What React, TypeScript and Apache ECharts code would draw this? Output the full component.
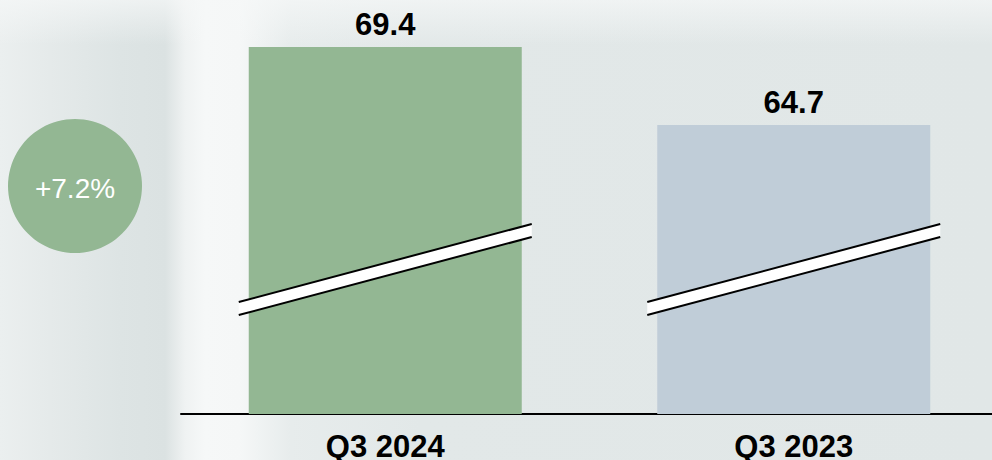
import React, { useEffect, useRef } from "react";
import * as echarts from "echarts";

const categories = ["Q3 2024", "Q3 2023"];
const values = [69.4, 64.7];
const barColors = ["#93b793", "#c0cdd8"];
const breakValue = 56.0;
const axisMin = 47.3;
const axisMax = 69.4;
const changeLabel = "+7.2%";

export default function App() {
  const ref = useRef<HTMLDivElement>(null);

  useEffect(() => {
    if (!ref.current) return;
    const chart = echarts.init(ref.current, null, { renderer: "svg" });
    const font = "Arial, 'Liberation Sans', sans-serif";
    chart.setOption({
      animation: false,
      backgroundColor: "transparent",
      grid: {
        left: 181,
        width: 817,
        top: 47,
        bottom: 46,
        containLabel: false,
        outerBoundsMode: "none",
      },
      xAxis: {
        type: "category",
        data: categories,
        axisLine: { show: true, lineStyle: { color: "#000", width: 2 } },
        axisTick: { show: false },
        axisLabel: {
          color: "#000",
          fontFamily: font,
          fontWeight: "bold",
          fontSize: 31,
          lineHeight: 24,
          margin: 20,
        },
      },
      yAxis: {
        type: "value",
        min: axisMin,
        max: axisMax,
        show: false,
        splitLine: { show: false },
      },
      series: [
        {
          type: "bar",
          barWidth: 273,
          data: values.map((v, i) => ({ value: v, itemStyle: { color: barColors[i] } })),
          label: {
            show: true,
            position: "top",
            distance: 7,
            color: "#000",
            fontFamily: font,
            fontWeight: "bold",
            fontSize: 31,
            formatter: (p: any) => p.value.toFixed(1),
          },
        },
        {
          type: "custom",
          data: categories.map((_, i) => [i, breakValue]),
          z: 10,
          renderItem: (params: any, api: any) => {
            const c = api.coord([api.value(0), api.value(1)]);
            const hx = 146.5;
            const hy = 39;
            const t = 6.5;
            const x0 = c[0] - hx;
            const x1 = c[0] + hx;
            return {
              type: "group",
              children: [
                {
                  type: "polygon",
                  shape: {
                    points: [
                      [x0, c[1] + hy - t],
                      [x1, c[1] - hy - t],
                      [x1, c[1] - hy + t],
                      [x0, c[1] + hy + t],
                    ],
                  },
                  style: { fill: "#ffffff" },
                },
                {
                  type: "line",
                  shape: { x1: x0, y1: c[1] + hy - t, x2: x1, y2: c[1] - hy - t },
                  style: { stroke: "#000", lineWidth: 2 },
                },
                {
                  type: "line",
                  shape: { x1: x0, y1: c[1] + hy + t, x2: x1, y2: c[1] - hy + t },
                  style: { stroke: "#000", lineWidth: 2 },
                },
              ],
            };
          },
        },
      ],
      graphic: [
        {
          type: "circle",
          shape: { cx: 75, cy: 186, r: 67 },
          style: { fill: "#93b793" },
        },
        {
          type: "text",
          x: 75,
          y: 188,
          style: {
            text: changeLabel,
            fill: "#ffffff",
            font: "28px Arial, 'Liberation Sans', sans-serif",
            align: "center",
            verticalAlign: "middle",
          },
        },
      ],
    });
    return () => chart.dispose();
  }, []);

  const bg = [
    "linear-gradient(180deg, rgba(246,248,248,0.7) 0px, rgba(246,248,248,0) 45px)",
    "linear-gradient(90deg, #ebefef 0px, #e5eaea 50px, #dde4e4 120px, #dbe2e2 165px, #eff2f2 185px, #f6f8f8 205px, #f5f7f7 240px, #e7ecec 290px, #e2e8e8 420px, #e1e7e7 992px)",
  ].join(", ");

  return (
    <div
      style={{
        position: "absolute",
        left: 0,
        top: 0,
        width: 992,
        height: 460,
        background: bg,
        overflow: "hidden",
      }}
    >
      <div ref={ref} style={{ width: 992, height: 460 }} />
    </div>
  );
}
